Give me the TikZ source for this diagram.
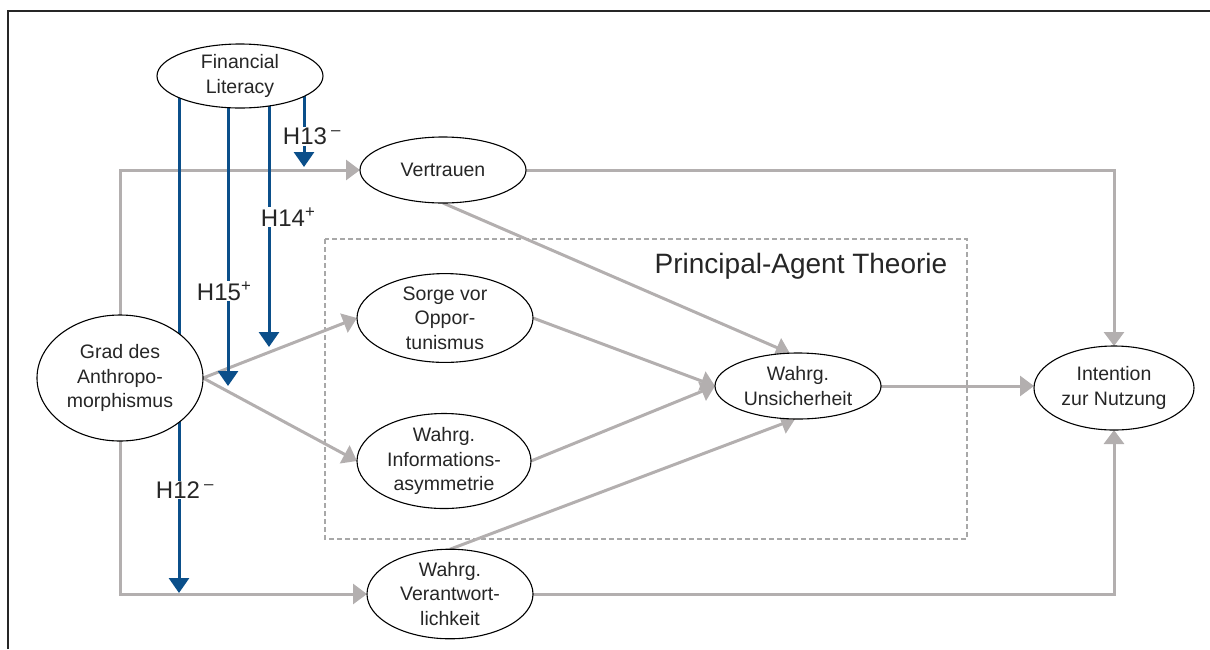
\documentclass[tikz,border=0pt]{standalone}
\usepackage{fontspec}
\setmainfont{Liberation Sans}
\usetikzlibrary{shapes.geometric,arrows.meta}
\pgfdeclarelayer{bg}
\pgfsetlayers{bg,main}
\definecolor{lgray}{HTML}{B3AFAF}
\definecolor{dblue}{HTML}{0B4F8A}
\definecolor{txt}{HTML}{262626}
\definecolor{dgray}{HTML}{A8A8A8}
\begin{document}
\begin{tikzpicture}[x=1pt,y=-1pt,
  ell/.style={ellipse,draw=black,line width=1.1pt,fill=white,inner sep=0pt,outer sep=0pt,align=center,text=txt,font=\fontsize{19.5}{24.5}\selectfont},
  garr/.style={draw=lgray,line width=3pt,-{Triangle[length=14pt,width=20pt]}},
  barr/.style={draw=dblue,line width=3pt,-{Triangle[length=15pt,width=20pt]}},
  hlab/.style={fill=white,inner sep=1pt,text=txt,font=\fontsize{24}{28}\selectfont},
  frame/.style={draw=black!85,line width=1.4pt},
  theory/.style={draw=dgray,line width=1.1pt,dash pattern=on 5pt off 3pt},
]
\useasboundingbox (0,0) rectangle (1210,649);

% nodes
\node[ell,minimum width=166pt,minimum height=64pt] (fl) at (240,76) {Financial\\Literacy};
\node[ell,minimum width=166pt,minimum height=66pt] (vert) at (443,170) {Vertrauen};
\node[ell,minimum width=166pt,minimum height=126pt] (grad) at (120,378) {Grad des\\Anthropo-\\morphismus};
\node[ell,minimum width=176pt,minimum height=84pt] (sorge) at (445,318) {Sorge vor\\Oppor-\\tunismus};
\node[ell,minimum width=174pt,minimum height=84pt] (info) at (444,461) {Wahrg.\\Informations-\\asymmetrie};
\node[ell,minimum width=166pt,minimum height=66pt] (unsich) at (798,386) {Wahrg.\\Unsicherheit};
\node[ell,minimum width=166pt,minimum height=78pt] (verant) at (450,594) {Wahrg.\\Verantwort-\\lichkeit};
\node[ell,minimum width=160pt,minimum height=84pt] (intent) at (1114,388) {Intention\\zur Nutzung};

\node[anchor=base,text=txt,font=\fontsize{28}{32}\selectfont] (pat) at (801,273) {Principal-Agent Theorie};

\coordinate (t12) at (179,593);
\coordinate (t15) at (228,386);
\coordinate (t14) at (269,347);
\coordinate (t13) at (304,167);

\node[hlab] (h12) at (178,490) {H12\rlap{\,\textsuperscript{–}}};
\node[hlab] (h15) at (219,291) {H15\rlap{\textsuperscript{+}}};
\node[hlab] (h14) at (283,217) {H14\rlap{\textsuperscript{+}}};
\node[hlab] (h13) at (305,136) {H13\rlap{\,\textsuperscript{–}}};

\begin{pgfonlayer}{bg}
  \draw[frame] (8,649) -- (8,11) -- (1210,11);
  \draw[theory] (325,239) rectangle (967,539);
  % gray connectors
  \draw[garr] (grad.north) |- (vert.west);
  \draw[garr] (grad.south) |- (verant.west);
  \draw[garr] (grad.east) -- (sorge.west);
  \draw[garr] (grad.east) -- (info.west);
  \draw[garr] (vert.east) -| (intent.north);
  \draw[garr] (verant.east) -| (intent.south);
  \draw[garr] (vert.south) -- (unsich.104);
  \draw[garr] (sorge.east) -- (unsich.west);
  \draw[garr] (info.east) -- (unsich.west);
  \draw[garr] (verant.north) -- (unsich.-95);
  \draw[garr] (unsich.east) -- (unsich.east -| intent.west);
  % blue connectors
  \draw[barr] (fl.center -| t12) -- (t12);
  \draw[barr] (fl.center -| t15) -- (t15);
  \draw[barr] (fl.center -| t14) -- (t14);
  \draw[barr] (fl.center -| t13) -- (t13);
\end{pgfonlayer}
\end{tikzpicture}
\end{document}
